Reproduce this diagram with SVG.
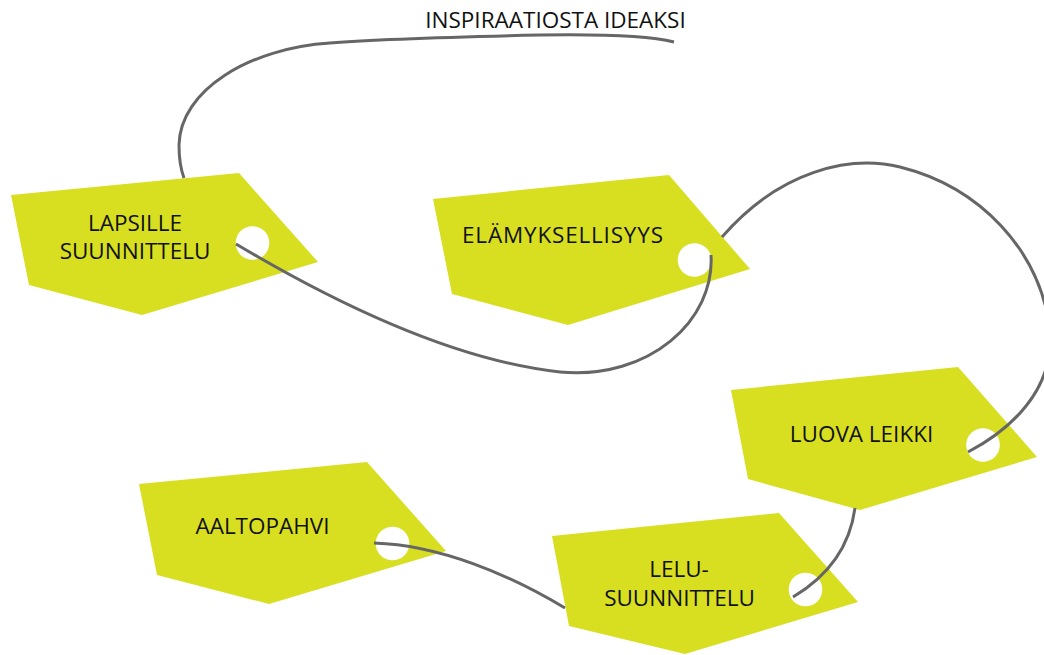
<svg xmlns="http://www.w3.org/2000/svg" width="1044" height="655" viewBox="0 0 1044 655">
<style>
.tag{fill:#d8df21}
.hole{fill:#ffffff}
.lbl{font-family:"Open Sans","Liberation Sans",sans-serif;font-size:22.5px;fill:#111111;text-anchor:middle}
.con{fill:none;stroke:#666666;stroke-width:3;stroke-linecap:butt}
</style>
<rect width="1044" height="655" fill="#ffffff"/>
<g id="title">
<text class="lbl" x="555.5" y="28">INSPIRAATIOSTA IDEAKSI</text>
</g>
<g id="tag-lapsille">
<polygon class="tag" points="11,195 239,173 318,262 142,315 29,285"/>
<circle class="hole" cx="252.5" cy="243" r="16.8"/>
<text class="lbl" x="135" y="231">LAPSILLE</text>
<text class="lbl" x="135" y="259">SUUNNITTELU</text>
</g>
<g id="tag-elamyksellisyys">
<polygon class="tag" points="433,199 669,175 750,269 568,325 452,294"/>
<circle class="hole" cx="694.5" cy="260" r="16.8"/>
<text class="lbl" x="562.5" y="243" textLength="201" lengthAdjust="spacing">ELÄMYKSELLISYYS</text>
</g>
<g id="tag-luova-leikki">
<polygon class="tag" points="731,390 958,367 1037,457 860,510 748,479"/>
<circle class="hole" cx="983" cy="445" r="16.8"/>
<text class="lbl" x="861.5" y="442">LUOVA LEIKKI</text>
</g>
<g id="tag-aaltopahvi">
<polygon class="tag" points="139,484 367,462 446,551 269,604 157,575"/>
<circle class="hole" cx="392.5" cy="543.5" r="16.8"/>
<text class="lbl" x="262.5" y="534">AALTOPAHVI</text>
</g>
<g id="tag-lelusuunnittelu">
<polygon class="tag" points="552,536 779,513 858,602 685,654 569,626"/>
<circle class="hole" cx="805.5" cy="589.5" r="16.8"/>
<text class="lbl" x="679" y="577">LELU-</text>
<text class="lbl" x="679.5" y="606">SUUNNITTELU</text>
</g>
<g id="connectors">
<path class="con" d="M674,42 C650,36 600,34 540,35 C450,37 380,39 330,43 C250,48 180,90 179,145 C179,160 181,170 184,178"/>
<path class="con" d="M236,244 C330,300 450,360 560,372 C650,380 715,320 711,255"/>
<path class="con" d="M722,237 C780,170 850,155 900,167 C980,187 1040,250 1050,330 C1055,390 1010,430 968,452"/>
<path class="con" d="M855,508 C850,545 830,575 793,597"/>
<path class="con" d="M374,543 C440,545 510,575 565,608"/>
</g>
</svg>
